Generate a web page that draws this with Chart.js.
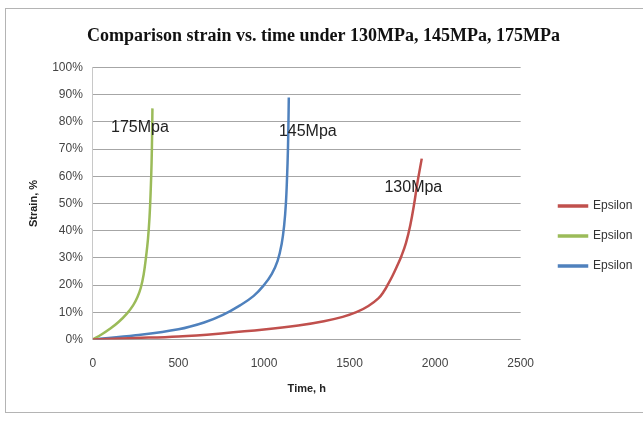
<!DOCTYPE html>
<html>
<head>
<meta charset="utf-8">
<script src="https://cdn.jsdelivr.net/npm/chart.js@4/dist/chart.umd.min.js"></script>
<style>
  html, body { margin: 0; padding: 0; background: #fff; }
  #wrap { width: 643px; height: 421px; position: relative; }
</style>
</head>
<body>
<div id="wrap"><canvas id="strainChart" width="643" height="421"></canvas></div>
<script>
// --- data ---
const time130 = [0, 250, 500, 750, 1000, 1200, 1350, 1460, 1540, 1610, 1670, 1700, 1726, 1752, 1778, 1804, 1830, 1855, 1878, 1895, 1922];
const strain130 = [0, 0.5, 1.1, 2.2, 3.6, 5.1, 6.7, 8.3, 10, 12.3, 15.2, 17.6, 20.4, 23.5, 27, 30.8, 35.5, 42, 50, 57, 66.5];

const time175 = [0, 50, 100, 150, 200, 235, 260, 280, 297, 310, 322, 331, 338, 343, 346, 348];
const strain175 = [0, 1.8, 3.9, 6.4, 9.6, 12.5, 15.5, 19, 24, 30, 37, 45, 55, 65, 75, 85];

const time145 = [0, 250, 500, 650, 760, 860, 940, 1000, 1045, 1080, 1103, 1118, 1128, 1135, 1140, 1143, 1145];
const strain145 = [0, 1.5, 3.7, 6.2, 9, 12.5, 16, 20, 24, 29, 35, 42, 50, 60, 70, 80, 89];

const seriesNames = ['Epsilon', 'Epsilon', 'Epsilon'];
const seriesColors = ['#C0504D', '#9BBB59', '#4F81BD'];

const curveLabels = ['175Mpa', '145Mpa', '130Mpa'];
const curveLabelX = [106, 1087, 1704];
const curveLabelY = [77.9, 76.5, 55.7];

const xTicks = [0, 500, 1000, 1500, 2000, 2500];

function pairs(xs, ys) {
    return xs.map((x, i) => ({ x: x, y: ys[i] }));
}

// --- frame, curve labels, legend placement ---
const extrasPlugin = {
    id: 'extras',
    afterLayout(chart) {
        // legend sits a bit away from the plot, centred on the middle entry
        const lg = chart.legend;
        const w = lg.right - lg.left, h = lg.bottom - lg.top;
        lg.left = 541; lg.right = lg.left + w;
        lg.top = 236 - h / 2; lg.bottom = lg.top + h;
    },
    beforeDraw(chart) {
        const ctx = chart.ctx;
        ctx.save();
        ctx.fillStyle = '#fff';
        ctx.fillRect(0, 0, chart.width, chart.height);
        ctx.strokeStyle = '#b4b4b4';
        ctx.lineWidth = 1;
        ctx.strokeRect(5.5, 8.5, 640, 404);
        ctx.restore();
    },
    afterDatasetsDraw(chart) {
        const ctx = chart.ctx;
        const xs = chart.scales.x, ys = chart.scales.y;
        ctx.save();
        ctx.font = '16px "Liberation Sans", sans-serif';
        ctx.fillStyle = '#222';
        ctx.textBaseline = 'middle';
        ctx.textAlign = 'left';
        curveLabels.forEach((t, i) => {
            ctx.fillText(t, xs.getPixelForValue(curveLabelX[i]), ys.getPixelForValue(curveLabelY[i]));
        });
        ctx.restore();
    }
};

const ctx = document.getElementById('strainChart');
new Chart(ctx, {
    type: 'line',
    data: {
        datasets: [
            { label: seriesNames[0], data: pairs(time130, strain130), borderColor: seriesColors[0], backgroundColor: seriesColors[0] },
            { label: seriesNames[1], data: pairs(time175, strain175), borderColor: seriesColors[1], backgroundColor: seriesColors[1] },
            { label: seriesNames[2], data: pairs(time145, strain145), borderColor: seriesColors[2], backgroundColor: seriesColors[2] }
        ].map(d => Object.assign(d, { borderWidth: 2.5, pointRadius: 0, tension: 0.4, fill: false }))
    },
    options: {
        responsive: false,
        animation: false,
        layout: { padding: { left: 25, right: 21, top: 14, bottom: 21 } },
        plugins: {
            title: {
                display: true,
                text: 'Comparison strain vs. time under 130MPa, 145MPa, 175MPa',
                font: { family: '"Liberation Serif", serif', size: 18, weight: 'bold' },
                color: '#111',
                padding: { top: 12, bottom: 20 }
            },
            legend: {
                position: 'right',
                labels: {
                    boxWidth: 28,
                    boxHeight: 1,
                    padding: 18,
                    color: '#333',
                    font: { family: '"Liberation Sans", sans-serif', size: 12 }
                }
            },
            tooltip: { enabled: false }
        },
        scales: {
            x: {
                type: 'linear',
                min: 0,
                max: 2500,
                afterBuildTicks: axis => { axis.ticks = xTicks.map(v => ({ value: v })); },
                grid: { display: false, drawTicks: false },
                border: { display: false },
                ticks: { color: '#444', padding: 17, callback: v => String(v), font: { family: '"Liberation Sans", sans-serif', size: 12 } },
                title: { display: true, text: 'Time, h', color: '#222', padding: { top: -5, bottom: 4 }, font: { family: '"Liberation Sans", sans-serif', size: 11, weight: 'bold' } }
            },
            y: {
                min: 0,
                max: 100,
                ticks: { stepSize: 10, color: '#444', padding: 10, callback: v => v + '%', font: { family: '"Liberation Sans", sans-serif', size: 12 } },
                grid: { color: '#a6a6a6', drawTicks: false },
                border: { color: '#c8c8c8' },
                title: { display: true, text: 'Strain, %', color: '#222', padding: { top: 2, bottom: 2 }, font: { family: '"Liberation Sans", sans-serif', size: 11, weight: 'bold' } }
            }
        }
    },
    plugins: [extrasPlugin]
});
</script>
</body>
</html>
